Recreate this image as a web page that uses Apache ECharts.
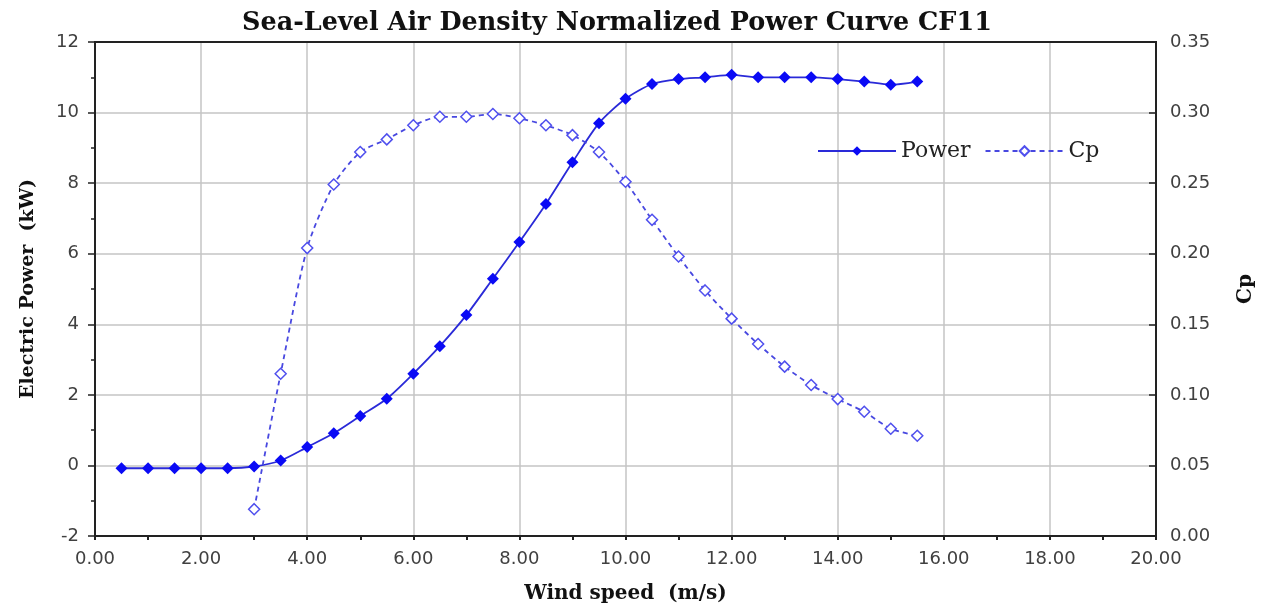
<!DOCTYPE html>
<html>
<head>
<meta charset="utf-8">
<script src="https://cdn.jsdelivr.net/npm/echarts@6/dist/echarts.min.js"></script>
<style>
  html, body { margin: 0; padding: 0; background: #fff; }
  #chart { width: 1264px; height: 609px; }
</style>
</head>
<body>
<div id="chart"></div>
<script>
// wind speed (m/s) for every measured bin
var powerSpeed = [0.5, 1.0, 1.5, 2.0, 2.5, 3.0, 3.5, 4.0, 4.5, 5.0, 5.5, 6.0, 6.5, 7.0, 7.5, 8.0,
                  8.5, 9.0, 9.5, 10.0, 10.5, 11.0, 11.5, 12.0, 12.5, 13.0, 13.5, 14.0, 14.5, 15.0, 15.5];
// electric power (kW)
var powerKW = [-0.08, -0.08, -0.08, -0.08, -0.08, -0.03, 0.14, 0.52, 0.91, 1.40, 1.89, 2.60, 3.38, 4.26, 5.29, 6.33,
               7.41, 8.59, 9.70, 10.39, 10.81, 10.95, 11.00, 11.07, 11.00, 11.00, 11.00, 10.95, 10.88, 10.79, 10.88];
// Cp only from cut-in
var cpSpeed = [3.0, 3.5, 4.0, 4.5, 5.0, 5.5, 6.0, 6.5, 7.0, 7.5, 8.0, 8.5, 9.0, 9.5, 10.0,
               10.5, 11.0, 11.5, 12.0, 12.5, 13.0, 13.5, 14.0, 14.5, 15.0, 15.5];
var cpValues = [0.019, 0.115, 0.204, 0.249, 0.272, 0.281, 0.291, 0.297, 0.297, 0.299, 0.296, 0.291, 0.284, 0.272, 0.251,
                0.224, 0.198, 0.174, 0.154, 0.136, 0.120, 0.107, 0.097, 0.088, 0.076, 0.071];

var serif = 'DejaVu Serif';
var tickFont = {color: '#404040', fontFamily: 'DejaVu Sans', fontSize: 18};

function pairs(xs, ys) {
    return xs.map(function (x, i) { return [x, ys[i]]; });
}

var chart = echarts.init(document.getElementById('chart'));
var option = {
    backgroundColor: '#fff',
    animation: false,
    title: {
        text: 'Sea-Level Air Density Normalized Power Curve CF11',
        left: 612,
        textAlign: 'center',
        top: 5,
        textStyle: {fontFamily: serif, fontWeight: 'bold', fontSize: 25.5, color: '#111'}
    },
    legend: {
        left: 812,
        top: 135,
        itemWidth: 78,
        itemHeight: 12,
        itemGap: 14,
        textStyle: {fontFamily: serif, fontSize: 22, color: '#222'},
        data: ['Power', 'Cp']
    },
    grid: {
        left: 95, right: 108, top: 42, bottom: 73,
        show: true, borderColor: '#222', borderWidth: 2
    },
    xAxis: [{
        type: 'value',
        min: 0, max: 20, interval: 2,
        name: 'Wind speed  (m/s)',
        nameLocation: 'middle',
        nameGap: 48,
        nameTextStyle: {fontFamily: serif, fontWeight: 'bold', fontSize: 20, color: '#111'},
        axisLine: {onZero: false, lineStyle: {color: '#222', width: 2}},
        axisTick: {show: true, length: 4, lineStyle: {color: '#222', width: 2}},
        minorTick: {show: true, splitNumber: 2, length: 4, lineStyle: {color: '#222', width: 2}},
        axisLabel: Object.assign({margin: 14, formatter: function (v) { return v.toFixed(2); }}, tickFont),
        splitLine: {show: true, lineStyle: {color: '#c4c4c4', width: 1.5}}
    }, {
        // top frame line only
        type: 'value',
        position: 'top',
        min: 0, max: 20, interval: 2,
        axisLine: {onZero: false, lineStyle: {color: '#222', width: 2}},
        axisTick: {show: false},
        axisLabel: {show: false},
        splitLine: {show: false}
    }],
    yAxis: [{
        type: 'value',
        min: -2, max: 12, interval: 2,
        name: 'Electric Power  (kW)',
        nameLocation: 'middle',
        nameGap: 57,
        nameTextStyle: {fontFamily: serif, fontWeight: 'bold', fontSize: 19, color: '#111'},
        axisLine: {show: true, onZero: false, lineStyle: {color: '#222', width: 2}},
        axisTick: {show: true, length: 7, lineStyle: {color: '#222', width: 1.5}},
        minorTick: {show: true, splitNumber: 2, length: 4, lineStyle: {color: '#222', width: 1.5}},
        axisLabel: Object.assign({margin: 16}, tickFont),
        splitLine: {show: true, lineStyle: {color: '#c4c4c4', width: 1.5}}
    }, {
        type: 'value',
        min: 0, max: 0.35, interval: 0.05,
        name: 'Cp',
        nameLocation: 'middle',
        nameGap: 80,
        nameTextStyle: {fontFamily: serif, fontWeight: 'bold', fontSize: 20, color: '#111'},
        axisLine: {show: true, onZero: false, lineStyle: {color: '#222', width: 2}},
        axisTick: {show: true, inside: true, length: 7, lineStyle: {color: '#222', width: 1.5}},
        axisLabel: Object.assign({margin: 14, formatter: function (v) { return v.toFixed(2); }}, tickFont),
        splitLine: {show: false}
    }],
    series: [{
        name: 'Power',
        type: 'line',
        xAxisIndex: 0,
        yAxisIndex: 0,
        smooth: 0.25,
        data: pairs(powerSpeed, powerKW),
        symbol: 'diamond',
        symbolSize: 12,
        color: '#0a0af5',
        itemStyle: {color: '#0a0af5'},
        lineStyle: {color: '#2a2ad8', width: 1.8}
    }, {
        name: 'Cp',
        type: 'line',
        xAxisIndex: 0,
        yAxisIndex: 1,
        smooth: 0.25,
        data: pairs(cpSpeed, cpValues),
        symbol: 'diamond',
        symbolSize: 11,
        color: '#5050ee',
        itemStyle: {color: '#fff', borderColor: '#5050ee', borderWidth: 1.5},
        lineStyle: {color: '#4848e0', width: 1.8, type: [5, 4]}
    }]
};
chart.setOption(option);
</script>
</body>
</html>
